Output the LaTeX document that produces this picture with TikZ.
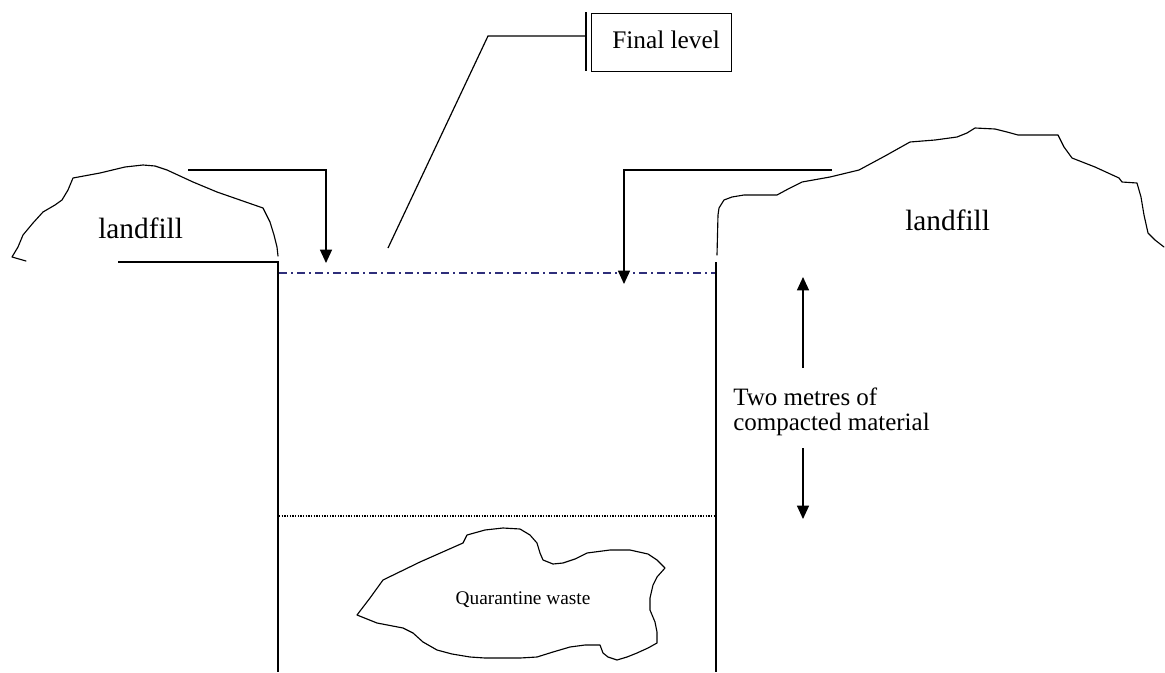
\documentclass[tikz,border=0pt]{standalone}
\usepackage{fontspec}
\setmainfont{Liberation Serif}
\usetikzlibrary{arrows.meta}
\definecolor{levelblue}{HTML}{2E2E7A}
\begin{document}
\begin{tikzpicture}[x=0.75pt,y=-0.75pt,
  outline/.style={line width=0.85pt, line join=round, line cap=round},
  wall/.style={line width=0.9pt},
  arr/.style={line width=0.9pt, -{Triangle[width=9pt,length=10pt]}},
  biglbl/.style={font=\fontsize{22}{24}\selectfont, inner sep=0pt, anchor=base west},
  midlbl/.style={font=\fontsize{18.75}{20}\selectfont, inner sep=0pt, anchor=base west},
  smalllbl/.style={font=\fontsize{14.5}{16}\selectfont, inner sep=0pt},
  levelline/.style={levelblue, line width=0.9pt, dash pattern=on 6pt off 3pt on 1.5pt off 3pt},
  dotline/.style={line width=0.8pt, dash pattern=on 1pt off 1pt},
]
\useasboundingbox (0,0) rectangle (1165,672);

% ---------- left landfill ----------
\draw[outline] (26,261) -- (12,257) -- (18,247) -- (23,235) -- (33,223) -- (43,212) -- (55,205) -- (62,200)
  -- (68,190) -- (73,178) -- (100,173) -- (125,167) -- (143,165) -- (155,166) -- (167,170) -- (180,176)
  -- (193,182) -- (217,192) -- (240,200) -- (263,208) -- (270,222) -- (274,235) -- (277,247) -- (278,256);
\node[biglbl] (lfl) at (98,238) {landfill};

% ---------- right landfill ----------
\draw[outline] (717,255) -- (718,215) -- (719,208) -- (724,200) -- (732,197) -- (744,195) -- (777,195)
  -- (790,188) -- (802,182) -- (830,177) -- (859,170) -- (885,156) -- (910,142) -- (935,140) -- (957,137)
  -- (967,133) -- (975,128) -- (995,129) -- (1007,132) -- (1018,135) -- (1058,135) -- (1064,147)
  -- (1072,158) -- (1095,167) -- (1119,178) -- (1122,182) -- (1137,183) -- (1141,197) -- (1144,215)
  -- (1148,233) -- (1155,240) -- (1164,247);
\node[biglbl] (lfr) at (905,230) {landfill};

% ---------- pit ----------
\coordinate (ltop) at (118,262);
\coordinate (lcorner) at (278,262);
\coordinate (lbot) at (278,672);
\coordinate (rtop) at (716,262);
\coordinate (rbot) at (716,672);
\draw[wall] (ltop) -- (lcorner) -- (lbot);
\draw[wall] (rtop) -- (rbot);

\coordinate (lvA) at (279,273);
\coordinate (lvB) at (715,273);
\draw[levelline] (lvA) -- (lvB);

\coordinate (dtA) at (279,516);
\coordinate (dtB) at (715,516);
\draw[dotline] (dtA) -- (dtB);

% ---------- level arrows ----------
\coordinate (laS) at (188,170);
\coordinate (laB) at (326,170);
\coordinate (laE) at (326,263);
\draw[arr] (laS) -- (laB) -- (laE);

\coordinate (raS) at (832,170);
\coordinate (raB) at (624,170);
\coordinate (raE) at (624,284);
\draw[arr] (raS) -- (raB) -- (raE);

% ---------- final level callout ----------
\node[draw, line width=0.9pt, minimum width=105pt, minimum height=43.5pt, anchor=north west, inner sep=0pt] (flbox) at (591,13) {};
\node[midlbl, font=\fontsize{19}{20}\selectfont] (fltext) at (612,48) {Final level};
\coordinate (barT) at (586,12);
\coordinate (barB) at (586,71);
\draw[wall] (barT) -- (barB);
\coordinate (ldS) at (388,248);
\coordinate (ldK) at (488,36);
\coordinate (ldE) at (586,36);
\draw[wall] (ldS) -- (ldK) -- (ldE);

% ---------- two metres ----------
\coordinate (upS) at (803,368);
\coordinate (upE) at (803,277);
\coordinate (dnS) at (803,448);
\coordinate (dnE) at (803,519);
\draw[arr] (upS) -- (upE);
\draw[arr] (dnS) -- (dnE);
\node[midlbl] (tw1) at (733,405) {Two metres of};
\node[midlbl] (tw2) at (733,430) {compacted material};

% ---------- quarantine waste ----------
\draw[outline] (357,615) -- (370,598) -- (383,580) -- (420,562) -- (463,543) -- (467,535) -- (485,530)
  -- (503,528) -- (520,529) -- (530,535) -- (537,543) -- (540,553) -- (543,560) -- (553,564) -- (563,563)
  -- (575,559) -- (587,553) -- (610,550) -- (630,550) -- (648,554) -- (657,560) -- (665,568) -- (657,577)
  -- (653,585) -- (650,598) -- (650,610) -- (655,622) -- (657,632) -- (657,643) -- (648,648) -- (637,653)
  -- (627,657) -- (617,660) -- (608,657) -- (603,653) -- (600,645) -- (585,645) -- (570,647) -- (553,652)
  -- (537,657) -- (520,658) -- (503,658) -- (485,658) -- (470,657) -- (452,654) -- (437,650) -- (423,642)
  -- (413,633) -- (403,628) -- (377,623) -- cycle;
\node[smalllbl] (qw) at (523,600) {Quarantine waste};
\end{tikzpicture}
\end{document}
